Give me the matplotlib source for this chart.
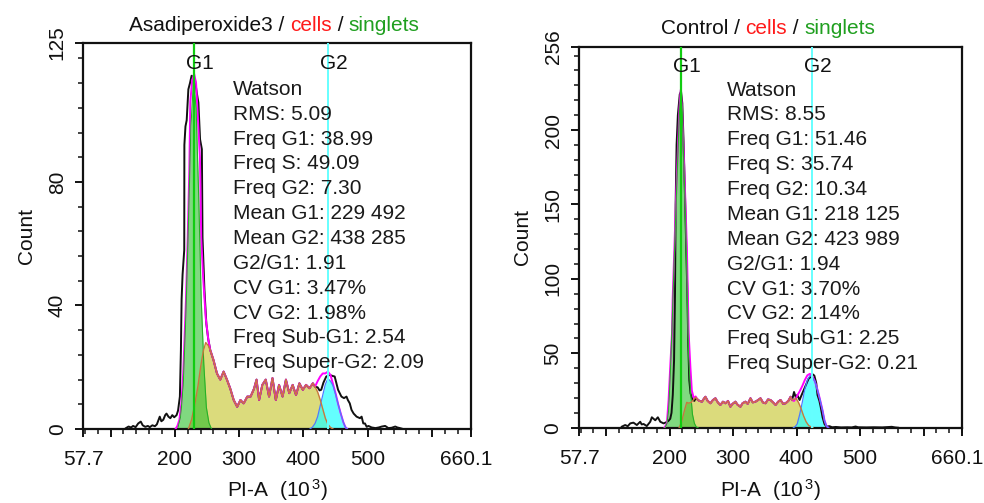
import matplotlib
matplotlib.use('Agg')
import matplotlib.pyplot as plt
import matplotlib.transforms as mtransforms
from matplotlib.ticker import MultipleLocator
from matplotlib.offsetbox import TextArea, HPacker, AnnotationBbox

plt.rcParams['font.family'] = ['Liberation Sans', 'DejaVu Sans']
plt.rcParams['mathtext.fontset'] = 'custom'
plt.rcParams['mathtext.rm'] = 'Liberation Sans'
plt.rcParams['mathtext.it'] = 'Liberation Sans:italic'

# ---- Asadiperoxide3 panel, points are (PI-A in 10^3, count) ----
asa_raw_lo = [(124, 0.3), (128, 0.8), (132, 0.5), (135, 1.0), (139, 0.6), (143, 1.8),
              (147, 2.4), (150, 1.2), (154, 0.7), (158, 1.0), (161, 0.6), (165, 1.2),
              (169, 0.9), (172, 1.5), (176.5, 4.0), (179, 2.5), (182, 3.0), (185, 4.5),
              (187, 5.0), (190, 4.0), (193, 3.5), (196, 4.5), (199, 3.8), (202.7, 4.5),
              (205, 6.0), (207.8, 10.5), (209.4, 25.6), (210.5, 42), (212, 50), (214.6, 58),
              (214.8, 92), (216.5, 98), (218.4, 100), (221, 110), (223.5, 112), (226, 114.4),
              (228.5, 114), (231.4, 113), (234, 109), (236.6, 105.7), (239.2, 93.8),
              (242, 90.6), (243, 62), (246, 45), (249, 34), (252, 29)]
asa_plateau = [(255, 25.6), (260, 22.4), (265.5, 18), (270.6, 16), (275.8, 18.6), (281, 16),
               (286, 13.2), (291.5, 9.4), (296.9, 7.2), (302, 9.4), (307, 8.3), (312.6, 10.5),
               (317.7, 10.5), (323, 13), (327, 16), (331, 9.4), (336, 14.3), (341.3, 16),
               (346.5, 10.5), (351.8, 16.5), (357, 9.4), (362, 14.3), (367.5, 10.5),
               (372.7, 16), (377.9, 11.6), (383.2, 14.3), (388.4, 11), (393.6, 14.8),
               (399, 12.7), (404, 14.3), (409.3, 13.2), (414.6, 14.8), (418, 13.7)]
asa_raw_hi = [(422, 13.5), (425, 12.5), (427.6, 12.7), (431, 15), (435.4, 17), (440.7, 17.5),
              (445, 17.2), (448.5, 17), (451, 15), (453.8, 12.7), (459, 10.5), (463, 10),
              (466.9, 10.5), (469, 9.4), (472, 8.3), (474.7, 6.2), (478, 5), (482.6, 4),
              (487.8, 3.5), (490.4, 4), (493, 1.8), (495.6, 1.8), (498.3, 0.7), (501, 1),
              (506, 0.5), (512, 0.3), (517, 0.5), (521.8, 0.8), (527, 1.0), (532, 0.3),
              (537, 0.4), (542.7, 0.8), (546, 0.5), (550, 0.3), (555, 0)]
asa_fit_lo = [(201, 0), (204, 1), (207, 3), (210, 8), (213, 18), (217.3, 42), (220, 62),
              (222.5, 84), (224, 106), (227, 113), (230, 115), (233, 112), (236, 100),
              (239, 88), (241, 62), (244, 49), (248, 36), (252, 29)]
asa_fit_hi = [(422, 15.5), (426, 17), (430, 18), (434, 18), (438, 18.6), (442, 17.5),
              (446, 14.5), (450, 11.5), (454, 8), (458, 5), (462, 2.2), (465, 0.7), (468, 0)]
asa_s_lo = [(221, 0), (226, 3), (231, 8), (236, 14), (240, 20), (244, 25), (248, 28), (252, 27)]
asa_s_hi = [(422, 12), (426, 9.5), (430, 6.5), (434, 3.5), (438, 1.5), (442, 0.5), (446, 0)]
asa_g1 = [(205, 0.5), (209, 4), (213, 14), (217, 36), (221, 66), (225, 98), (229, 113),
          (233, 104), (237, 76), (241, 42), (245, 21), (249, 7), (253, 2), (257, 0)]
asa_g2 = [(410, 0), (414, 0.6), (418, 1.8), (422, 4), (426, 7.5), (430, 11), (434, 14.5),
          (438, 16.3), (442, 15.5), (446, 14), (450, 11.2), (454, 8), (458, 5), (462, 2.2),
          (465, 0.7), (468, 0)]
asa_means = (229.492, 438.285)
asa_stats = ['Watson', 'RMS: 5.09', 'Freq G1: 38.99', 'Freq S: 49.09', 'Freq G2: 7.30',
             'Mean G1: 229 492', 'Mean G2: 438 285', 'G2/G1: 1.91', 'CV G1: 3.47%',
             'CV G2: 1.98%', 'Freq Sub-G1: 2.54', 'Freq Super-G2: 2.09']

# ---- Control panel ----
ctl_raw_lo = [(124.7, 0.7), (130, 1.8), (134, 1.0), (138, 2.9), (143, 3.4), (148.4, 1.8),
              (153.7, 4.0), (156, 2.2), (159, 2.5), (164, 1.1), (169.5, 4.0), (172, 7.0),
              (177.4, 5.0), (181.5, 7.0), (185.3, 4.0), (190.5, 2.9), (194, 3.5), (198, 4.5),
              (201, 6), (203, 10), (205, 22), (207, 45), (208.5, 90), (209.5, 150), (211, 190),
              (213, 210), (216, 224), (218, 226), (220, 218), (222, 192), (224, 160),
              (226, 125), (228, 90), (229.5, 55), (231, 32), (233, 23), (236, 19), (239, 18),
              (241, 20)]
ctl_plateau = [(244, 19), (247, 18), (251, 17.5), (254, 19.5), (256.4, 20.8), (260, 18),
               (264.3, 16.4), (268, 18.5), (272.2, 19.8), (276, 17), (280, 15.3), (284, 17.5),
               (288, 16.4), (292, 18), (295.8, 14.1), (299, 16), (303.7, 17.5), (307, 15.5),
               (311.6, 14.1), (315, 16.5), (319.5, 17.5), (323, 16), (327.4, 19.8), (331, 17),
               (335.3, 17.5), (339, 18.5), (343.2, 19.8), (347, 17), (351, 16.4), (355, 19),
               (359, 18.6), (363, 17), (367, 15.3), (371, 17.5), (374.8, 18.6), (379, 16),
               (382.7, 16.4), (387, 18), (390.6, 20.8), (393, 18.5)]
ctl_raw_hi = [(396, 24), (399, 20), (401, 22), (404.8, 18.6), (407, 21), (410, 24), (413, 27),
              (416, 30), (419, 33), (422, 34), (425, 36), (428, 35), (431, 30), (433, 22),
              (436, 18), (438, 14), (441, 7), (444, 2.5), (447, 0.8), (452, 1.0), (456, 0.3),
              (462, 0.5), (470, 0.2), (480, 0.3), (487, 0.2), (493, 0.8), (497, 0.3),
              (510, 0.2), (522, 0.3), (535, 0.2), (550, 0.6), (555, 0.2), (560, 0)]
ctl_fit_lo = [(192, 0), (195.7, 3), (198.4, 18.6), (201, 41), (203.7, 63), (204.8, 86),
              (207.4, 119), (210, 153), (213, 187), (215.5, 215), (217.5, 227), (219.5, 215),
              (222, 187), (224.8, 153), (227.3, 119), (230, 63.5), (232.7, 41), (235, 25),
              (238, 20), (241, 21)]
ctl_fit_hi = [(396, 18), (399, 19.8), (401, 21.5), (405, 24.5), (409, 28), (413, 32),
              (417, 35.2), (421, 36.2), (425, 34.5), (429, 31), (433, 25.5), (437, 18.8),
              (441, 11.6), (444, 5), (447, 1.2), (450, 0)]
ctl_s_lo = [(215, 0), (219, 4), (223, 11), (227, 17), (230, 16.5), (234, 17), (238, 19),
            (241, 20.5)]
ctl_s_hi = [(396, 19), (399, 19.8), (403, 17), (407, 13), (411, 8), (415, 4), (419, 1.5),
            (423, 0.5), (426, 0)]
ctl_g1 = [(193, 0), (196, 3), (198.5, 12), (201, 35), (204, 70), (207, 110), (210, 148),
          (213, 183), (215.5, 212), (217.8, 225), (220, 212), (222, 182), (224.8, 147),
          (227.3, 102), (230, 48), (233, 24), (236, 9), (239, 3), (242, 0.5), (245, 0)]
ctl_g2 = [(395, 0), (398, 0.8), (401, 2.5), (405, 9), (409, 17), (413, 26), (417, 32),
          (421, 35), (425, 34), (429, 31), (433, 25.5), (437, 18.8), (441, 11.6), (444, 5),
          (447, 1.2), (450, 0)]
ctl_means = (218.125, 423.989)
ctl_stats = ['Watson', 'RMS: 8.55', 'Freq G1: 51.46', 'Freq S: 35.74', 'Freq G2: 10.34',
             'Mean G1: 218 125', 'Mean G2: 423 989', 'G2/G1: 1.94', 'CV G1: 3.70%',
             'CV G2: 2.14%', 'Freq Sub-G1: 2.25', 'Freq Super-G2: 0.21']

x_ticks = [57.7, 100, 200, 300, 400, 500, 600, 660.1]
x_tick_labels = ['57.7', '', '200', '300', '400', '500', '', '660.1']

FS = 15


def colored_title(ax, name):
    parts = [(name + ' / ', '#111111'), ('cells', '#ff1a1a'), (' / ', '#111111'),
             ('singlets', '#1f9f1f')]
    boxes = [TextArea(txt, textprops=dict(color=c, fontsize=15)) for txt, c in parts]
    pack = HPacker(children=boxes, align='baseline', pad=0, sep=0)
    ab = AnnotationBbox(pack, (0.5, 1.0), xycoords='axes fraction', xybox=(-2, 6),
                        boxcoords='offset points', box_alignment=(0.5, 0.0),
                        frameon=False, annotation_clip=False)
    ax.add_artist(ab)


def draw_panel(ax, name, raw, fit, s_phase, g1, g2, means, stats,
               ymax, yticks, yminor, text_y0, label_y):
    sx, sy = zip(*s_phase)
    g1x, g1y = zip(*g1)
    g2x, g2y = zip(*g2)
    rx, ry = zip(*raw)
    fx, fy = zip(*fit)

    # model components
    ax.fill_between(sx, sy, color='#cdcd45', alpha=0.7, lw=0, zorder=1)
    ax.fill_between(g1x, g1y, color='#2cc02c', alpha=0.6, lw=0, zorder=1.2)
    ax.fill_between(g2x, g2y, color='#22ffff', alpha=0.7, lw=0, zorder=1.3)

    ax.plot(rx, ry, color='#111111', lw=1.4, zorder=2)
    ax.plot(fx, fy, color='#ff00ff', lw=1.4, zorder=3)
    ax.plot(g1x, g1y, color='#27b027', lw=0.8, zorder=4)
    ax.plot(g2x, g2y, color='#4a7dff', lw=0.9, zorder=4)
    ax.plot(sx, sy, color='#c8783c', lw=1.0, zorder=4)

    ax.axvline(means[0], color='#11cc11', lw=1.6, zorder=5)
    ax.axvline(means[1], color='#66ffff', lw=1.4, zorder=5)
    for m, lab in zip(means, ['G1', 'G2']):
        ax.annotate(lab, xy=(m, 0.947), xycoords=('data', 'axes fraction'),
                    xytext=(4, 0), textcoords='offset points', ha='center', va='center',
                    fontsize=FS, color='#111111', zorder=6)

    for i, line in enumerate(stats):
        ax.annotate(line, xy=(0.386, text_y0), xycoords='axes fraction',
                    xytext=(0, -i * 17.9), textcoords='offset points',
                    ha='left', va='center', fontsize=FS, color='#1a1a1a', zorder=6)

    ax.set_xlim(57.7, 660.1)
    ax.set_ylim(0, ymax)
    ax.set_xticks(x_ticks)
    ax.set_xticklabels(x_tick_labels)
    ax.xaxis.set_minor_locator(MultipleLocator(20))
    ax.set_yticks(yticks)
    ax.set_yticklabels([str(t) for t in yticks])
    ax.yaxis.set_minor_locator(MultipleLocator(yminor))

    ax.tick_params(which='major', direction='out', length=6, width=1.4,
                   labelsize=FS, colors='#111111')
    ax.tick_params(which='minor', direction='out', length=3.5, width=1.1, colors='#111111')
    ax.tick_params(axis='x', which='major', pad=9)
    ax.tick_params(axis='y', which='major', pad=6)
    for lab in ax.get_yticklabels():
        lab.set_rotation(90)
        lab.set_verticalalignment('center')

    # nudge the last x label in a little so it stays inside the figure
    last = ax.get_xticklabels()[-1]
    shift = mtransforms.ScaledTranslation(-3 / 72, 0, ax.figure.dpi_scale_trans)
    last.set_transform(last.get_transform() + shift)

    for sp in ax.spines.values():
        sp.set_linewidth(1.6)
        sp.set_color('#111111')

    ax.set_ylabel('Count', fontsize=FS, color='#111111')
    ax.yaxis.set_label_coords(-0.123, 0.5)
    ax.set_xlabel('PI-A  (10$^{\\,3}$)', fontsize=FS, color='#111111')
    ax.xaxis.set_label_coords(0.5, label_y)

    colored_title(ax, name)


if __name__ == "__main__":
    fig = plt.figure(figsize=(9.84, 5.03), dpi=100)
    ax1 = fig.add_axes([0.0847, 0.1471, 0.3937, 0.7674])
    ax2 = fig.add_axes([0.5887, 0.1497, 0.3886, 0.7575])

    draw_panel(ax1, 'Asadiperoxide3',
               asa_raw_lo + asa_plateau + asa_raw_hi,
               asa_fit_lo + asa_plateau + asa_fit_hi,
               asa_s_lo + asa_plateau + asa_s_hi,
               asa_g1, asa_g2, asa_means, asa_stats,
               125, [0, 40, 80, 125], 8, 0.880, -0.124)

    draw_panel(ax2, 'Control',
               ctl_raw_lo + ctl_plateau + ctl_raw_hi,
               ctl_fit_lo + ctl_plateau + ctl_fit_hi,
               ctl_s_lo + ctl_plateau + ctl_s_hi,
               ctl_g1, ctl_g2, ctl_means, ctl_stats,
               256, [0, 50, 100, 150, 200, 256], 10, 0.886, -0.129)

    fig.savefig('out.png', dpi=100)
